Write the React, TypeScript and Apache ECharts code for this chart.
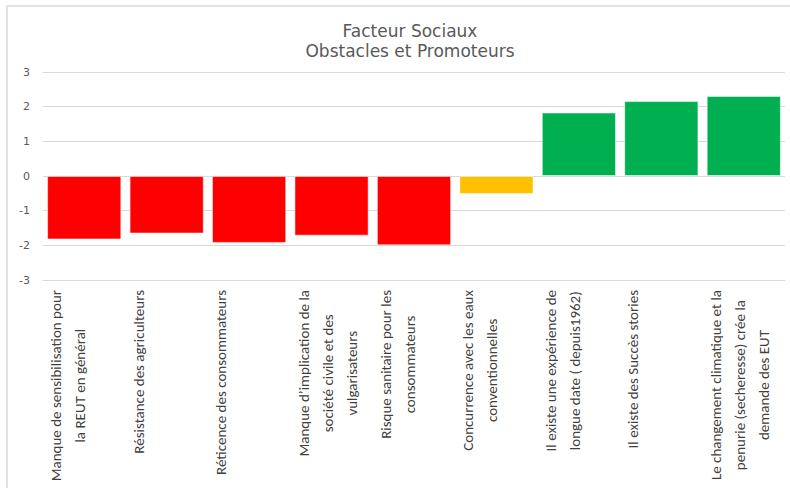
import React, { useEffect, useRef } from "react";
import * as echarts from "echarts";

const titleLines = ["Facteur Sociaux", "Obstacles et Promoteurs"];

const categories = [
  "Manque de sensibilisation pour\nla REUT en général",
  "Résistance des agriculteurs",
  "Réticence des consommateurs",
  "Manque d’implication de la\nsociété civile et des\nvulgarisateurs",
  "Risque sanitaire pour les\nconsommateurs",
  "Concurrence avec les eaux\nconventionnelles",
  "Il existe une expérience de\nlongue date ( depuis1962)",
  "Il existe des Succès stories",
  "Le changement climatique et la\npenurie (secheresse) crée la\ndemande des EUT",
];

const values = [-1.83, -1.66, -1.93, -1.72, -2.0, -0.52, 1.83, 2.16, 2.31];

const groups = [
  "obstacle",
  "obstacle",
  "obstacle",
  "obstacle",
  "obstacle",
  "neutre",
  "promoteur",
  "promoteur",
  "promoteur",
];

const yTicks = [-3, -2, -1, 0, 1, 2, 3];

const groupColor: Record<string, string> = {
  obstacle: "#FF0000",
  neutre: "#FFC000",
  promoteur: "#00B050",
};

const FONT = 'Carlito, Lato, Roboto, sans-serif';
const TITLE_FONT = '"DejaVu Sans", "Open Sans", sans-serif';

export default function App() {
  const ref = useRef<HTMLDivElement>(null);

  useEffect(() => {
    document.body.style.margin = "0";
    document.body.style.overflow = "hidden";
    if (!ref.current) return;
    const chart = echarts.init(ref.current, undefined, { renderer: "svg" });
    chart.setOption({
      animation: false,
      backgroundColor: "#ffffff",
      title: {
        text: titleLines.join("\n"),
        left: 405,
        textAlign: "center",
        top: 16,
        textStyle: {
          fontFamily: TITLE_FONT,
          fontSize: 17,
          fontWeight: "normal",
          color: "#595959",
          lineHeight: 20,
        },
      },
      graphic: [
        {
          type: "rect",
          shape: { x: 7, y: 6, width: 820, height: 520 },
          style: { fill: "none", stroke: "#d9d9d9", lineWidth: 1.5 },
          silent: true,
        },
      ],
      grid: { left: 43, right: 5, top: 72, bottom: 208 },
      xAxis: {
        type: "category",
        data: categories,
        axisLine: { onZero: false, lineStyle: { color: "#d9d9d9" } },
        axisTick: { show: false },
        axisLabel: {
          interval: 0,
          rotate: 90,
          margin: 10,
          verticalAlign: "middle",
          padding: [0, 0, 8, 0],
          fontFamily: FONT,
          formatter: (v: string) => {
            const lines = v.split("\n");
            while (lines.length < 3) lines.push(" ");
            return lines.map((l) => `{c|${l}}`).join("\n");
          },
          rich: {
            c: {
              align: "center",
              fontFamily: FONT,
              fontSize: 15,
              lineHeight: 24,
              color: "#404040",
            },
          },
        },
      },
      yAxis: {
        type: "value",
        min: yTicks[0],
        max: yTicks[yTicks.length - 1],
        interval: 1,
        axisLine: { show: false },
        axisTick: { show: false },
        axisLabel: {
          margin: 13,
          fontFamily: TITLE_FONT,
          fontSize: 11,
          color: "#595959",
        },
        splitLine: { lineStyle: { color: "#d9d9d9", width: 1 } },
      },
      series: [
        {
          type: "bar",
          barCategoryGap: "10%",
          data: values.map((v, i) => ({
            value: v,
            itemStyle: { color: groupColor[groups[i]] },
          })),
          itemStyle: { borderColor: "rgba(255,255,255,0.5)", borderWidth: 1 },
        },
      ],
    });
    return () => chart.dispose();
  }, []);

  return <div ref={ref} style={{ width: 790, height: 488 }} />;
}
